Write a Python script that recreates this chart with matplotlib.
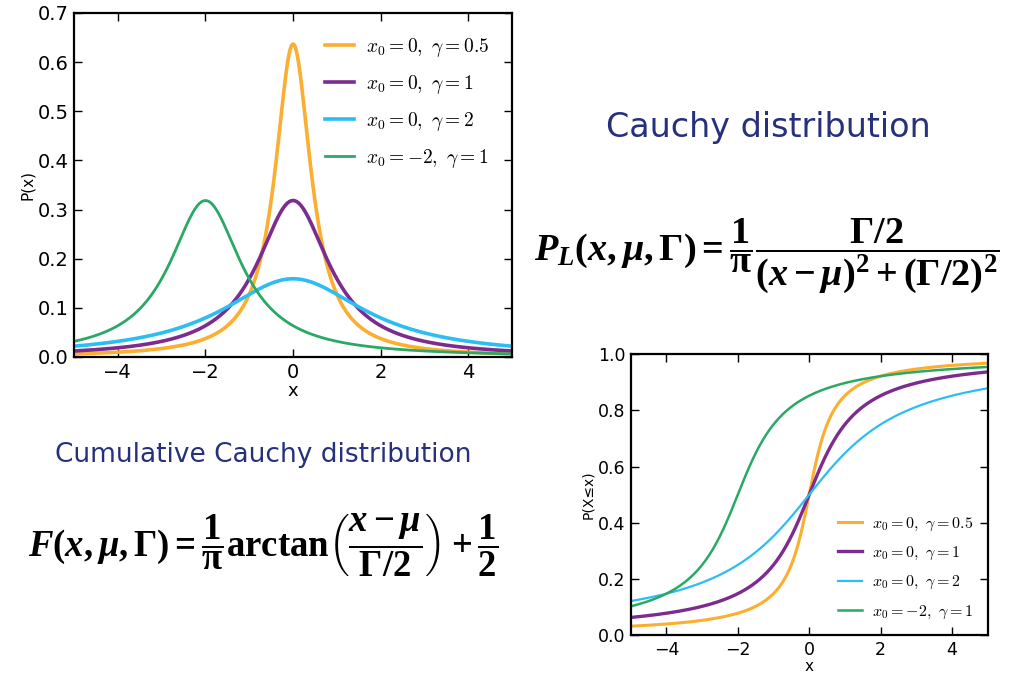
import numpy as np
import matplotlib
matplotlib.use("Agg")
import matplotlib.pyplot as plt
from matplotlib.font_manager import FontProperties

# curve parameters (location x0, scale gamma)
x0_vals = [0, 0, 0, -2]
gamma_vals = [0.5, 1, 2, 1]
labels = [r"$x_0=0,\ \gamma=0.5$", r"$x_0=0,\ \gamma=1$",
          r"$x_0=0,\ \gamma=2$", r"$x_0=-2,\ \gamma=1$"]
colors = ["#fbae2f", "#7d2b8f", "#2cbdf2", "#2aa866"]

x_range = (-5, 5)
pdf_yticks = [0.0, 0.1, 0.2, 0.3, 0.4, 0.5, 0.6, 0.7]
cdf_yticks = [0.0, 0.2, 0.4, 0.6, 0.8, 1.0]
xticks = [-4, -2, 0, 2, 4]

plt.rcParams["mathtext.fontset"] = "custom"
plt.rcParams["mathtext.rm"] = "Liberation Serif:bold"
plt.rcParams["mathtext.it"] = "Liberation Serif:italic:bold"
plt.rcParams["mathtext.bf"] = "Liberation Serif:bold"
plt.rcParams["axes.linewidth"] = 1.6
plt.rcParams["xtick.direction"] = "in"
plt.rcParams["ytick.direction"] = "in"
plt.rcParams["xtick.top"] = True
plt.rcParams["ytick.right"] = True

x = np.linspace(x_range[0], x_range[1], 800)


def cauchy_pdf(x, x0, g):
    return g / (np.pi * ((x - x0) ** 2 + g ** 2))


def cauchy_cdf(x, x0, g):
    return np.arctan((x - x0) / g) / np.pi + 0.5


fig = plt.figure(figsize=(10.14, 6.8), dpi=100)

# density
ax1 = fig.add_axes([0.073, 0.475, 0.432, 0.506])
for x0, g, lab, c, lw in zip(x0_vals, gamma_vals, labels, colors, [2.6, 2.6, 2.6, 2.0]):
    ax1.plot(x, cauchy_pdf(x, x0, g), color=c, lw=lw, label=lab)
ax1.set_xlim(*x_range)
ax1.set_ylim(0, 0.7)
ax1.set_xticks(xticks)
ax1.set_yticks(pdf_yticks)
ax1.set_xticklabels(["\u22124", "\u22122", "0", "2", "4"])
ax1.tick_params(labelsize=14, length=6, width=1.0, pad=4)
ax1.set_xlabel("x", fontsize=13, labelpad=0)
ax1.set_ylabel("P(x)", fontsize=11, labelpad=2)
ax1.legend(loc="upper right", frameon=False, handlelength=1.5,
           labelspacing=0.72, handletextpad=0.6, borderaxespad=0.8,
           prop=FontProperties(size=14, math_fontfamily="cm"))

# cumulative
ax2 = fig.add_axes([0.622, 0.066, 0.352, 0.413])
for x0, g, lab, c, lw in zip(x0_vals, gamma_vals, labels, colors, [2.2, 2.4, 1.6, 1.8]):
    ax2.plot(x, cauchy_cdf(x, x0, g), color=c, lw=lw, label=lab)
ax2.set_xlim(*x_range)
ax2.set_ylim(0, 1.0)
ax2.set_xticks(xticks)
ax2.set_yticks(cdf_yticks)
ax2.set_xticklabels(["\u22124", "\u22122", "0", "2", "4"])
ax2.tick_params(labelsize=12.5, length=6, width=1.0, pad=4)
ax2.set_xlabel("x", fontsize=11, labelpad=0)
ax2.set_ylabel("P(X\u2264x)", fontsize=10, labelpad=2)
ax2.legend(loc="lower right", frameon=False, handlelength=1.5,
           labelspacing=0.75, handletextpad=0.6, borderaxespad=0.5,
           prop=FontProperties(size=11.5, math_fontfamily="cm"))

# headings and formulas
navy = "#26307c"
fig.text(768 / 1014, 1 - 128 / 680, "Cauchy distribution", color=navy,
         fontsize=24, ha="center", va="center")
fig.text(263 / 1014, 1 - 455 / 680, "Cumulative Cauchy distribution", color=navy,
         fontsize=19, ha="center", va="center")
fig.text(767 / 1014, 1 - 256 / 680,
         r"$P_L(x,\mu,\Gamma)=\dfrac{1}{\mathrm{\pi}}\dfrac{\Gamma/2}{(x-\mu)^2+(\Gamma/2)^2}$",
         fontsize=27.5, ha="center", va="center")
fig.text(263 / 1014, 1 - 545 / 680,
         r"$F(x,\mu,\Gamma)=\dfrac{1}{\mathrm{\pi}}\mathrm{arctan}\left(\dfrac{x-\mu}{\Gamma/2}\right)+\dfrac{1}{2}$",
         fontsize=26.5, ha="center", va="center")

fig.savefig("out.png", dpi=100)
